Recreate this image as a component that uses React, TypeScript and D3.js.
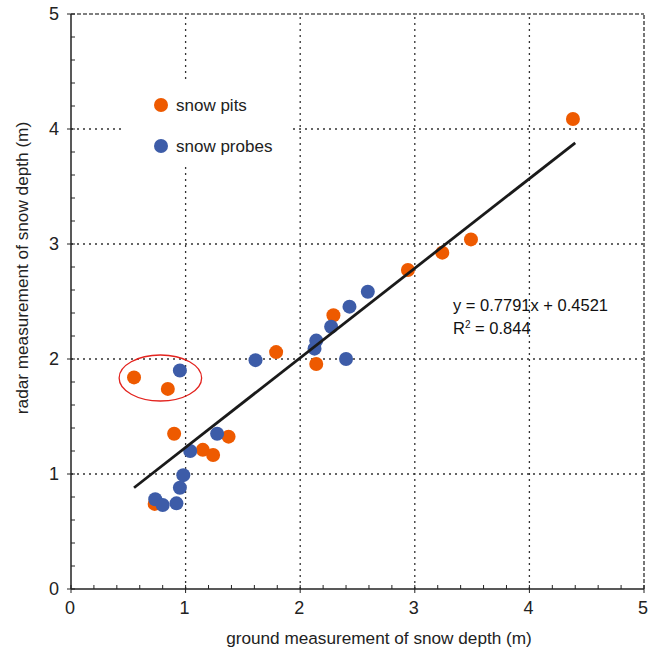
import React from "react";
import * as d3 from "d3";

const pitsX = [0.55, 0.845, 0.9, 1.15, 1.24, 1.375, 0.73, 1.79, 2.14, 2.29, 2.94, 3.24, 3.49, 4.38];
const pitsY = [1.84, 1.74, 1.35, 1.21, 1.165, 1.325, 0.74, 2.06, 1.957, 2.38, 2.774, 2.925, 3.04, 4.087];
const probesX = [0.95, 1.61, 1.275, 1.04, 0.98, 0.95, 0.735, 0.8, 0.92, 2.4, 2.125, 2.14, 2.27, 2.43, 2.59];
const probesY = [1.9, 1.99, 1.35, 1.2, 0.99, 0.88, 0.78, 0.73, 0.745, 2.0, 2.09, 2.16, 2.28, 2.455, 2.585];
const ticks = [0, 1, 2, 3, 4, 5];
const slope = 0.7791;
const intercept = 0.4521;
const fitRange = [0.55, 4.4];
const outlierCenter = [0.78, 1.835];
const outlierRadii = [0.36, 0.2];
const legendLabels = ["snow pits", "snow probes"];
const colors = ["#EE5A00", "#3D5CA8"];

export default function App() {
  const x = d3.scaleLinear().domain([0, 5]).range([71, 644]);
  const y = d3.scaleLinear().domain([0, 5]).range([589, 14]);
  const minor = d3.range(0, 5.0001, 0.2);
  const font = "'Liberation Sans', Arial, sans-serif";
  const line = d3.line<number>().x((v) => x(v)).y((v) => y(slope * v + intercept));
  return (
    <svg width={653} height={647} style={{ position: "absolute", left: 0, top: 0 }} fontFamily={font}>
      <rect width={653} height={647} fill="#fff" />
      {/* grid */}
      {ticks.slice(1, 5).map((t) => (
        <g key={"g" + t}>
          <line x1={x(t)} x2={x(t)} y1={y(0)} y2={y(5)} stroke="#333" strokeWidth={1.3} strokeDasharray="2,4" />
          <line x1={x(0)} x2={x(5)} y1={y(t)} y2={y(t)} stroke="#333" strokeWidth={1.3} strokeDasharray="2,4" />
        </g>
      ))}
      {/* top & right borders */}
      <line x1={x(0)} x2={x(5)} y1={y(5)} y2={y(5)} stroke="#555" strokeWidth={1.6} strokeDasharray="4,2" />
      <line x1={x(5)} x2={x(5)} y1={y(0)} y2={y(5)} stroke="#555" strokeWidth={1.6} strokeDasharray="4,2" />
      {/* legend box */}
      <rect x={123} y={80} width={169} height={87} fill="#fff" />
      {legendLabels.map((l, i) => (
        <g key={l}>
          <circle cx={161} cy={105 + i * 41} r={7} fill={colors[i]} />
          <text x={176} y={105 + i * 41} dy="0.35em" fontSize={17} fill="#222">{l}</text>
        </g>
      ))}
      {/* axes */}
      <line x1={x(0)} x2={x(5)} y1={y(0)} y2={y(0)} stroke="#222" strokeWidth={1.5} />
      <line x1={x(0)} x2={x(0)} y1={y(0)} y2={y(5)} stroke="#222" strokeWidth={1.5} />
      {minor.map((t, i) => (
        <g key={"m" + i}>
          <line x1={x(t)} x2={x(t)} y1={y(0)} y2={y(0) - 4} stroke="#222" strokeWidth={1} />
          <line x1={x(0)} x2={x(0) + 4} y1={y(t)} y2={y(t)} stroke="#222" strokeWidth={1} />
        </g>
      ))}
      {ticks.map((t) => (
        <g key={"t" + t}>
          <line x1={x(t)} x2={x(t)} y1={y(0)} y2={y(0) + 4} stroke="#222" strokeWidth={1} />
          <line x1={x(0) - 4} x2={x(0)} y1={y(t)} y2={y(t)} stroke="#222" strokeWidth={1} />
          <text x={x(t) - 1} y={608} dy="0.35em" textAnchor="middle" fontSize={18} fill="#222">{t}</text>
          <text x={59} y={y(t)} dy="0.35em" textAnchor="end" fontSize={18} fill="#222">{t}</text>
        </g>
      ))}
      <text x={379} y={638} dy="0.35em" textAnchor="middle" fontSize={17.2} fill="#222">ground measurement of snow depth (m)</text>
      <text transform={`translate(22,268) rotate(-90)`} dy="0.35em" textAnchor="middle" fontSize={17.2} fill="#222">radar measurement of snow depth (m)</text>
      {/* points */}
      {pitsX.map((v, i) => (
        <circle key={"p" + i} cx={x(v)} cy={y(pitsY[i])} r={7} fill={colors[0]} />
      ))}
      {probesX.map((v, i) => (
        <circle key={"b" + i} cx={x(v)} cy={y(probesY[i])} r={7} fill={colors[1]} />
      ))}
      <path d={line(fitRange) || ""} stroke="#1a1a1a" strokeWidth={2.8} fill="none" />
      <ellipse
        cx={x(outlierCenter[0])}
        cy={y(outlierCenter[1])}
        rx={x(outlierRadii[0]) - x(0)}
        ry={y(0) - y(outlierRadii[1])}
        fill="none"
        stroke="#E3231E"
        strokeWidth={1.3}
      />
      <text x={453} y={311} fontSize={16.5} fill="#111">y = 0.7791x + 0.4521</text>
      <text x={453} y={334} fontSize={16.5} fill="#111">
        R<tspan dy={-6} fontSize={10}>2</tspan><tspan dy={6}> = 0.844</tspan>
      </text>
    </svg>
  );
}
